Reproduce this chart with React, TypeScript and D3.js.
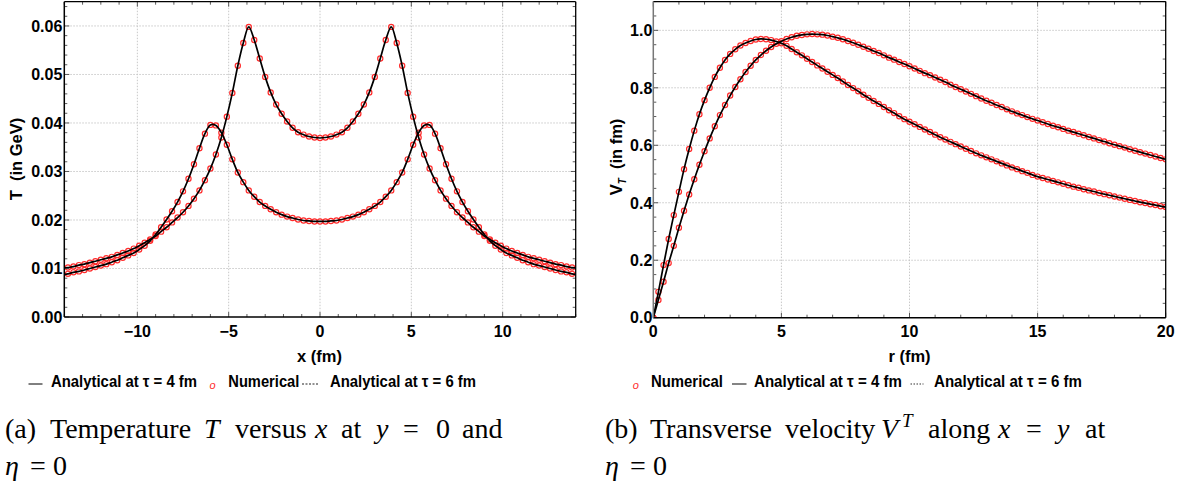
import React from 'react';
import * as d3 from 'd3';

// ---------- DATA ----------
// Left panel: T (GeV) vs x (fm), sampled every 0.3 fm; half profiles for x = 0, 0.3, ..., 14.1 (profile is symmetric)
const xSamplesT: number[] = d3.range(-47, 48).map(i => +(i * 0.3).toFixed(1));
const tempTau4Half = [0.0369, 0.0370, 0.0372, 0.0376, 0.0381, 0.0390, 0.0403, 0.0419, 0.0438, 0.0463,
  0.0495, 0.0533, 0.0571, 0.0598, 0.0565, 0.0518, 0.0462, 0.0413, 0.0370, 0.0335,
  0.0306, 0.0282, 0.0261, 0.0244, 0.0229, 0.0216, 0.0205, 0.0195, 0.0185, 0.0176,
  0.0167, 0.0160, 0.0153, 0.0147, 0.0141, 0.0136, 0.0132, 0.0128, 0.0124, 0.0121,
  0.0118, 0.0115, 0.0112, 0.0109, 0.0107, 0.0104, 0.0102, 0.0100];
const tempTau6Half = [0.0197, 0.0197, 0.0198, 0.0199, 0.0201, 0.0204, 0.0207, 0.0211, 0.0216, 0.0222,
  0.0229, 0.0237, 0.0248, 0.0261, 0.0278, 0.0298, 0.0325, 0.0355, 0.0380, 0.0395,
  0.0396, 0.0378, 0.0348, 0.0315, 0.0285, 0.0259, 0.0237, 0.0218, 0.0201, 0.0185,
  0.0170, 0.0157, 0.0147, 0.0139, 0.0132, 0.0127, 0.0122, 0.0117, 0.0113, 0.0109,
  0.0106, 0.0103, 0.0100, 0.0097, 0.0094, 0.0092, 0.0089, 0.0087];
const tempTau4 = [...tempTau4Half.slice(1).reverse(), ...tempTau4Half];
const tempTau6 = [...tempTau6Half.slice(1).reverse(), ...tempTau6Half];

// Right panel: V_T vs r (fm), sampled every 0.2 fm
const rSamples: number[] = d3.range(0, 101).map(i => +(i * 0.2).toFixed(1));
const velTau4 = [
  0.000, 0.090, 0.183, 0.274, 0.357, 0.438, 0.517, 0.587, 0.651, 0.708,
  0.757, 0.800, 0.838, 0.870, 0.897, 0.918, 0.934, 0.947, 0.956, 0.963,
  0.968, 0.970, 0.969, 0.966, 0.961, 0.955, 0.946, 0.935, 0.924, 0.913,
  0.901, 0.890, 0.878, 0.867, 0.856, 0.845, 0.834, 0.822, 0.810, 0.799,
  0.788, 0.776, 0.765, 0.754, 0.744, 0.733, 0.722, 0.712, 0.701, 0.691,
  0.682, 0.673, 0.664, 0.655, 0.646, 0.637, 0.628, 0.620, 0.612, 0.604,
  0.596, 0.588, 0.580, 0.572, 0.565, 0.558, 0.551, 0.544, 0.537, 0.530,
  0.523, 0.517, 0.510, 0.504, 0.497, 0.491, 0.486, 0.481, 0.476, 0.471,
  0.466, 0.461, 0.456, 0.452, 0.447, 0.443, 0.439, 0.434, 0.430, 0.426,
  0.422, 0.418, 0.414, 0.410, 0.406, 0.402, 0.399, 0.395, 0.392, 0.388,
  0.385];
const velTau6 = [
  0.000, 0.062, 0.125, 0.190, 0.250, 0.313, 0.372, 0.429, 0.482, 0.532,
  0.579, 0.624, 0.666, 0.705, 0.740, 0.773, 0.803, 0.830, 0.855, 0.877,
  0.897, 0.914, 0.929, 0.942, 0.953, 0.962, 0.970, 0.976, 0.981, 0.984,
  0.986, 0.987, 0.986, 0.985, 0.982, 0.978, 0.974, 0.969, 0.963, 0.957,
  0.950, 0.943, 0.936, 0.928, 0.921, 0.913, 0.905, 0.898, 0.890, 0.883,
  0.875, 0.867, 0.859, 0.851, 0.844, 0.836, 0.828, 0.820, 0.811, 0.803,
  0.795, 0.787, 0.779, 0.771, 0.763, 0.755, 0.748, 0.740, 0.733, 0.725,
  0.718, 0.711, 0.705, 0.698, 0.692, 0.686, 0.680, 0.674, 0.668, 0.663,
  0.657, 0.651, 0.646, 0.640, 0.635, 0.629, 0.624, 0.618, 0.613, 0.607,
  0.602, 0.597, 0.592, 0.586, 0.581, 0.576, 0.571, 0.566, 0.561, 0.556,
  0.551];

// Ticks
const tXMajor = [-10, -5, 0, 5, 10];
const tXLabels = ['\u221210', '\u22125', '0', '5', '10'];
const tXMinor = d3.range(-14, 15, 1);
const tYMajor = [0, 0.01, 0.02, 0.03, 0.04, 0.05, 0.06];
const tYLabels = ['0.00', '0.01', '0.02', '0.03', '0.04', '0.05', '0.06'];
const tYMinor = d3.range(0, 33).map(i => i * 0.002);

const vXMajor = [0, 5, 10, 15, 20];
const vXLabels = ['0', '5', '10', '15', '20'];
const vXMinor = d3.range(0, 21, 1);
const vYMajor = [0, 0.2, 0.4, 0.6, 0.8, 1.0];
const vYLabels = ['0.0', '0.2', '0.4', '0.6', '0.8', '1.0'];
const vYMinor = d3.range(0, 23).map(i => i * 0.05);

// ---------- STYLE ----------
const SANS = '"Liberation Sans", Arial, sans-serif';
const SERIF = '"Liberation Serif", "Times New Roman", serif';
const RED = '#ff2b2b';

type Series = { xs: number[]; ys: number[] };

function Panel(props: {
  id: string;
  box: [number, number, number, number];
  xDomain: [number, number];
  yDomain: [number, number];
  xMajor: number[]; xLabels: string[]; xMinor: number[];
  yMajor: number[]; yLabels: string[]; yMinor: number[];
  series: Series[];
  labelGap: number;
  leftColor: string;
}) {
  const { id, box, xDomain, yDomain, series } = props;
  const [x0, y0, x1, y1] = box;
  const xs = d3.scaleLinear().domain(xDomain).range([x0, x1]);
  const ys = d3.scaleLinear().domain(yDomain).range([y1, y0]);
  const line = d3.line<[number, number]>()
    .x(d => xs(d[0])).y(d => ys(d[1]))
    .curve(d3.curveCatmullRom.alpha(0.5));
  const eps = 1e-9;
  const inX = (v: number) => v >= xDomain[0] - eps && v <= xDomain[1] + eps;
  return (
    <g>
      <defs>
        <clipPath id={id}>
          <rect x={x0} y={y0} width={x1 - x0} height={y1 - y0} />
        </clipPath>
      </defs>
      {props.xMajor.filter(v => v > xDomain[0] && v < xDomain[1]).map(v => (
        <line key={'gx' + v} x1={xs(v)} x2={xs(v)} y1={y0} y2={y1} stroke="#c8c8c8" strokeWidth={1} strokeDasharray="1.5,1.5" />
      ))}
      {props.yMajor.filter(v => v > yDomain[0] && v < yDomain[1]).map(v => (
        <line key={'gy' + v} x1={x0} x2={x1} y1={ys(v)} y2={ys(v)} stroke="#c8c8c8" strokeWidth={1} strokeDasharray="1.5,1.5" />
      ))}
      <g clipPath={`url(#${id})`}>
        {series.map((s, si) => s.xs.map((xv, i) => inX(xv) ? (
          <circle key={`m${si}-${i}`} cx={xs(xv)} cy={ys(s.ys[i])} r={2.6} fill="none" stroke={RED} strokeWidth={1.2} />
        ) : null))}
        {series.map((s, si) => (
          <path key={'l' + si} d={line(s.xs.map((xv, i) => [xv, s.ys[i]] as [number, number])) || ''}
            fill="none" stroke="#000" strokeWidth={1.7} />
        ))}
      </g>
      {props.xMinor.map(v => {
        const major = props.xMajor.includes(v);
        const L = major ? 5 : 3;
        return (
          <g key={'tx' + v}>
            <line x1={xs(v)} x2={xs(v)} y1={y1} y2={y1 - L} stroke="#333" strokeWidth={0.8} />
            <line x1={xs(v)} x2={xs(v)} y1={y0} y2={y0 + L} stroke="#333" strokeWidth={0.8} />
          </g>
        );
      })}
      {props.yMinor.map((v, i) => {
        const major = props.yMajor.some(m => Math.abs(m - v) < 1e-9);
        const L = major ? 5 : 3;
        return (
          <g key={'ty' + i}>
            <line x1={x0} x2={x0 + L} y1={ys(v)} y2={ys(v)} stroke="#333" strokeWidth={0.8} />
            <line x1={x1} x2={x1 - L} y1={ys(v)} y2={ys(v)} stroke="#333" strokeWidth={0.8} />
          </g>
        );
      })}
      <line x1={x0} x2={x1} y1={y0} y2={y0} stroke="#000" strokeWidth={1.3} />
      <line x1={x1} x2={x1} y1={y0} y2={y1} stroke="#000" strokeWidth={1.3} />
      <line x1={x0} x2={x1} y1={y1} y2={y1} stroke="#000" strokeWidth={1.5} />
      <line x1={x0} x2={x0} y1={y0} y2={y1} stroke={props.leftColor} strokeWidth={1.5} />
      {props.xMajor.map((v, i) => (
        <text key={'lx' + v} x={xs(v)} y={y1 + 19.5} textAnchor="middle" fontFamily={SANS} fontWeight="bold" fontSize={16}>{props.xLabels[i]}</text>
      ))}
      {props.yMajor.map((v, i) => (
        <text key={'ly' + v} x={x0 - props.labelGap} y={ys(v)} dy="0.36em" textAnchor="end" fontFamily={SANS} fontWeight="bold" fontSize={16}>{props.yLabels[i]}</text>
      ))}
    </g>
  );
}

export default function App() {
  const legendFont = { fontFamily: SANS, fontWeight: 'bold' as const, fontSize: 16 };
  return (
    <svg width={1192} height={487} viewBox="0 0 1192 487"
      style={{ position: 'absolute', left: 0, top: 0, background: '#fff' }}>
      <rect x={0} y={0} width={1192} height={487} fill="#fff" />
      <Panel id="clipT" box={[64.3, 1.7, 575.7, 317]} xDomain={[-14, 14]} yDomain={[0, 0.065]}
        xMajor={tXMajor} xLabels={tXLabels} xMinor={tXMinor}
        yMajor={tYMajor} yLabels={tYLabels} yMinor={tYMinor}
        series={[{ xs: xSamplesT, ys: tempTau4 }, { xs: xSamplesT, ys: tempTau6 }]}
        labelGap={2} leftColor="#000" />
      <Panel id="clipV" box={[653.3, 1.6, 1165.7, 317.7]} xDomain={[0, 20]} yDomain={[0, 1.1]}
        xMajor={vXMajor} xLabels={vXLabels} xMinor={vXMinor}
        yMajor={vYMajor} yLabels={vYLabels} yMinor={vYMinor}
        series={[{ xs: rSamples, ys: velTau4 }, { xs: rSamples, ys: velTau6 }]}
        labelGap={1} leftColor="#777" />

      <text x={319.5} y={361.5} textAnchor="middle" fontFamily={SANS} fontWeight="bold" fontSize={16.5}>x (fm)</text>
      <text x={909.5} y={361.5} textAnchor="middle" fontFamily={SANS} fontWeight="bold" fontSize={16.5}>r (fm)</text>
      <text transform="translate(22,159) rotate(-90)" textAnchor="middle" fontFamily={SANS} fontWeight="bold" fontSize={16.5} style={{ whiteSpace: 'pre' }}>T  (in GeV)</text>
      <text transform="translate(622,157) rotate(-90)" textAnchor="middle" fontFamily={SANS} fontWeight="bold" fontSize={16.5} style={{ whiteSpace: 'pre' }}>
        V<tspan fontSize={10} fontStyle="italic" dy={4}>T</tspan><tspan dy={-4}>  (in fm)</tspan>
      </text>

      {/* legend left */}
      <line x1={28.5} x2={42.5} y1={384} y2={384} stroke="#000" strokeWidth={1} />
      <text x={51} y={386.5} {...legendFont} textLength={146} lengthAdjust="spacingAndGlyphs">Analytical at τ = 4 fm</text>
      <text x={209.5} y={388.5} fill={RED} fontFamily={SANS} fontStyle="italic" fontSize={11}>o</text>
      <text x={228.3} y={386.5} {...legendFont} textLength={71} lengthAdjust="spacingAndGlyphs">Numerical</text>
      <line x1={302} x2={318} y1={384} y2={384} stroke="#222" strokeWidth={1} strokeDasharray="2,1.5" />
      <text x={330} y={386.5} {...legendFont} textLength={146} lengthAdjust="spacingAndGlyphs">Analytical at τ = 6 fm</text>

      {/* legend right */}
      <text x={632.7} y={388.5} fill={RED} fontFamily={SANS} fontStyle="italic" fontSize={11}>o</text>
      <text x={651} y={386.5} {...legendFont} textLength={72} lengthAdjust="spacingAndGlyphs">Numerical</text>
      <line x1={732} x2={746.5} y1={384} y2={384} stroke="#777" strokeWidth={1.8} />
      <text x={754} y={386.5} {...legendFont} textLength={148} lengthAdjust="spacingAndGlyphs">Analytical at τ = 4 fm</text>
      <line x1={910.5} x2={923.5} y1={384} y2={384} stroke="#777" strokeWidth={1.6} strokeDasharray="1.5,1.5" />
      <text x={934} y={386.5} {...legendFont} textLength={148} lengthAdjust="spacingAndGlyphs">Analytical at τ = 6 fm</text>

      <g fontFamily={SERIF} fontSize={28} fill="#000">
        <text y={438.3}>
          <tspan x={5}>(a)</tspan>
          <tspan x={50}>Temperature</tspan>
          <tspan x={204} fontStyle="italic">T</tspan>
          <tspan x={235}>versus</tspan>
          <tspan x={315} fontStyle="italic">x</tspan>
          <tspan x={341}>at</tspan>
          <tspan x={376} fontStyle="italic">y</tspan>
          <tspan x={403}>=</tspan>
          <tspan x={436}>0</tspan>
          <tspan x={462}>and</tspan>
        </text>
        <text y={475}>
          <tspan x={5} fontStyle="italic">η</tspan>
          <tspan x={30}>=</tspan>
          <tspan x={53}>0</tspan>
        </text>
        <text y={438.3}>
          <tspan x={605}>(b)</tspan>
          <tspan x={650}>Transverse</tspan>
          <tspan x={785}>velocity</tspan>
          <tspan x={881} fontStyle="italic">V</tspan>
          <tspan x={902} dy={-11} fontSize={19} fontStyle="italic">T</tspan>
          <tspan x={928} dy={11}>along</tspan>
          <tspan x={998} fontStyle="italic">x</tspan>
          <tspan x={1026}>=</tspan>
          <tspan x={1057} fontStyle="italic">y</tspan>
          <tspan x={1085}>at</tspan>
        </text>
        <text y={475}>
          <tspan x={605} fontStyle="italic">η</tspan>
          <tspan x={630}>=</tspan>
          <tspan x={653}>0</tspan>
        </text>
      </g>
    </svg>
  );
}
